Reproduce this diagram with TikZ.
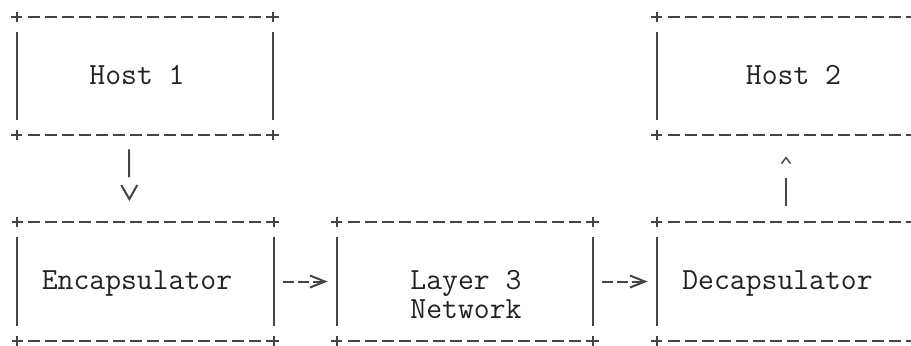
\documentclass[tikz,border=0pt]{standalone}
\usepackage{tikz}
\usetikzlibrary{arrows.meta}
\definecolor{asciiink}{HTML}{222222}
\definecolor{asciiline}{HTML}{444444}
\newcommand{\asciibox}[1]{%
  \draw[hrule] ([xshift=5.5pt]#1.north west) -- ([xshift=-2.75pt]#1.north east);
  \draw[hrule] ([xshift=5.5pt]#1.south west) -- ([xshift=-2.75pt]#1.south east);
  \draw[vrule] ([yshift=-7.5pt]#1.north west) -- ([yshift=7.5pt]#1.south west);
  \draw[vrule] ([yshift=-7.5pt]#1.north east) -- ([yshift=7.5pt]#1.south east);
  \foreach \corner in {north west,north east,south west,south east}
    \draw[vrule] (#1.\corner) +(-2.75pt,0) -- +(2.75pt,0) +(0,-2.5pt) -- +(0,2.5pt);
}

\begin{document}
\begin{tikzpicture}[
  x=0.5pt, y=-0.5pt,
  box/.style={minimum width=128pt,minimum height=59pt,inner sep=0pt},
  wide/.style={box,minimum width=144pt},
  lbl/.style={font=\ttfamily\fontsize{15.4}{14.8}\selectfont,text=asciiink,inner sep=0pt,anchor=base,align=center},
  hrule/.style={asciiline,line width=1pt,dash pattern=on 6pt off 2.5pt},
  vrule/.style={asciiline,line width=1pt},
  dn/.style={vrule,dash pattern=on 14pt off 60pt,-{Straight Barb[length=7pt,width=8pt]}},
  up/.style={vrule,dash pattern=on 14pt off 60pt,-{Straight Barb[length=3pt,width=4.5pt,line width=0.7pt]}},
  fw/.style={vrule,dash pattern=on 5.5pt off 2pt,-{Straight Barb[length=7.5pt,width=6pt]},shorten <=4.5pt,shorten >=4.5pt}]
\useasboundingbox (0,0) rectangle (911,345);
% hosts
\node[box] (h1) at (145,76) {};
\node[wide] (h2) at (801,76) {};
% path through the network
\node[box] (enc) at (145.5,281.5) {};
\node[box] (l3) at (465,281.5) {};
\node[wide] (dec) at (801,281.5) {};
\foreach \b in {h1,h2,enc,l3,dec} \asciibox{\b};
% labels
\node[lbl] (h1t) at (137,84) {Host 1};
\node[lbl] (h2t) at (793.5,84) {Host 2};
\node[lbl] (enct) at (137,289) {Encapsulator};
\node[lbl] (l3t) at (466,318.6) {Layer 3\\Network};
\node[lbl] (dect) at (777.5,289) {Decapsulator};
% flows
\draw[dn,shorten <=7pt,shorten >=10.5pt] ([xshift=-8pt]h1.south) -- ([xshift=-8pt]enc.north);
\draw[fw] (enc) -- (l3);
\draw[fw] (l3) -- (dec);
\draw[up,shorten <=8pt,shorten >=10.5pt] ([xshift=-7.5pt]dec.north) -- ([xshift=-7.5pt]h2.south);
\end{tikzpicture}
\end{document}
